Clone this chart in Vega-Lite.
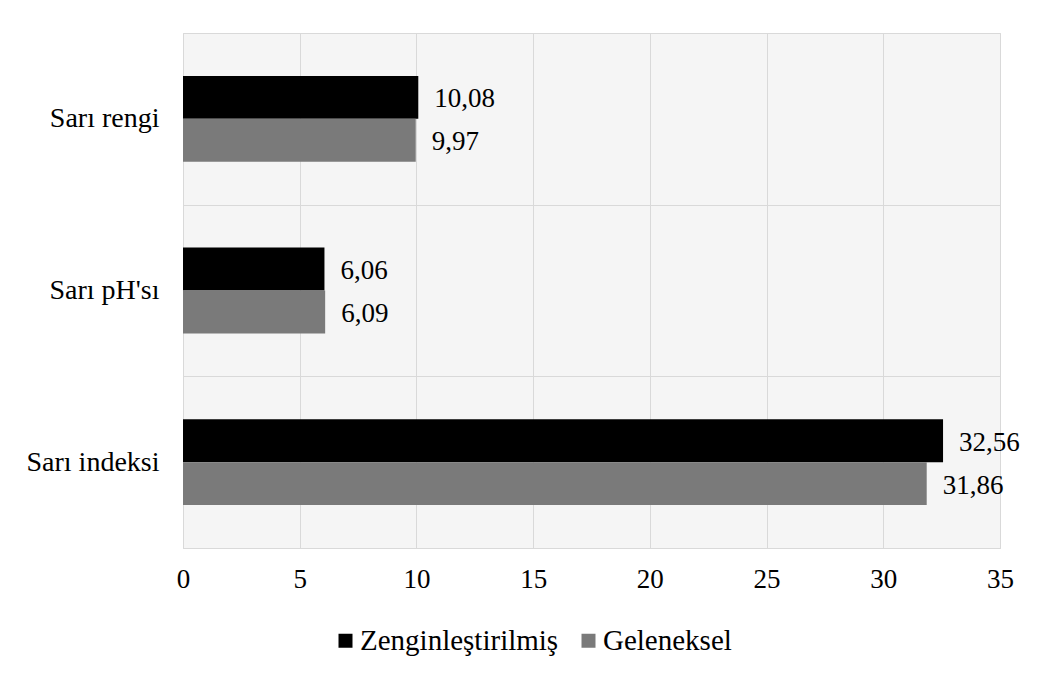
{
  "$schema": "https://vega.github.io/schema/vega-lite/v6.json",
  "width": 817,
  "height": 515,
  "autosize": {"type": "none"},
  "padding": {"left": 183, "top": 33, "right": 43, "bottom": 127},
  "background": "white",
  "config": {
    "locale": {
      "number": {"decimal": ",", "thousands": ".", "grouping": [3], "currency": ["", " ₺"]}
    },
    "font": "'Liberation Serif', 'DejaVu Serif', serif",
    "view": {"stroke": "#d9d9d9", "strokeWidth": 1, "fill": "#f5f5f5"},
    "axis": {
      "labelFont": "'Liberation Serif', 'DejaVu Serif', serif",
      "labelColor": "#000000",
      "gridColor": "#d9d9d9",
      "gridWidth": 1,
      "ticks": false,
      "title": null
    }
  },
  "data": {
    "values": [
      {"olcum": "Sarı rengi", "yontem": "Zenginleştirilmiş", "deger": 10.08},
      {"olcum": "Sarı rengi", "yontem": "Geleneksel", "deger": 9.97},
      {"olcum": "Sarı pH'sı", "yontem": "Zenginleştirilmiş", "deger": 6.06},
      {"olcum": "Sarı pH'sı", "yontem": "Geleneksel", "deger": 6.09},
      {"olcum": "Sarı indeksi", "yontem": "Zenginleştirilmiş", "deger": 32.56},
      {"olcum": "Sarı indeksi", "yontem": "Geleneksel", "deger": 31.86}
    ]
  },
  "encoding": {
    "y": {
      "field": "olcum",
      "type": "nominal",
      "sort": ["Sarı rengi", "Sarı pH'sı", "Sarı indeksi"],
      "scale": {"paddingInner": 0, "paddingOuter": 0},
      "axis": {
        "grid": true,
        "tickBand": "extent",
        "domain": false,
        "labelFontSize": 28,
        "labelPadding": 24,
        "labelAlign": "right",
        "labelLimit": 300
      }
    },
    "yOffset": {
      "field": "yontem",
      "type": "nominal",
      "sort": ["Zenginleştirilmiş", "Geleneksel"],
      "scale": {"paddingInner": 0, "paddingOuter": 1.26}
    },
    "x": {
      "field": "deger",
      "type": "quantitative",
      "scale": {"domain": [0, 35], "nice": false},
      "axis": {
        "values": [0, 5, 10, 15, 20, 25, 30, 35],
        "grid": true,
        "domain": true,
        "domainColor": "#d9d9d9",
        "labelFontSize": 27,
        "labelPadding": 18,
        "labelFlush": false,
        "format": "d"
      }
    }
  },
  "layer": [
    {
      "mark": {"type": "bar"},
      "encoding": {
        "color": {
          "field": "yontem",
          "type": "nominal",
          "sort": ["Zenginleştirilmiş", "Geleneksel"],
          "scale": {
            "domain": ["Zenginleştirilmiş", "Geleneksel"],
            "range": ["#000000", "#7a7a7a"]
          },
          "legend": {
            "orient": "none",
            "legendX": 148,
            "legendY": 593,
            "padding": 0,
            "direction": "horizontal",
            "title": null,
            "labelFont": "'Liberation Serif', 'DejaVu Serif', serif",
            "labelFontSize": 29,
            "labelColor": "#000000",
            "labelLimit": 400,
            "labelOffset": 0,
            "symbolType": "square",
            "symbolSize": 196,
            "symbolStrokeWidth": 0,
            "symbolOpacity": 1,
            "columnPadding": 15
          }
        }
      }
    },
    {
      "mark": {
        "type": "text",
        "align": "left",
        "baseline": "middle",
        "dx": 16,
        "dy": 2,
        "font": "'Liberation Serif', 'DejaVu Serif', serif",
        "fontSize": 27,
        "color": "#000000"
      },
      "encoding": {
        "text": {"field": "deger", "type": "quantitative", "format": ".2f"}
      }
    }
  ]
}
